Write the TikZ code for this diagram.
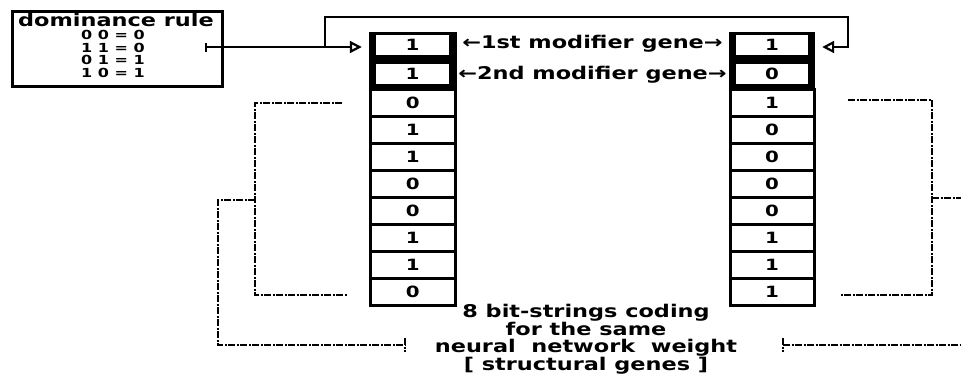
\documentclass[tikz,border=0pt]{standalone}
\usepackage{fontspec}
\setmainfont{DejaVu Sans}[FakeStretch=1.28]
\usetikzlibrary{arrows.meta}
\tikzset{
  cell/.style={draw, line width=3pt, minimum width=84.5pt, minimum height=27pt,
    inner sep=0pt, font=\bfseries\fontsize{15.5}{15.5}\selectfont},
  modblock/.style={fill=black, minimum width=88pt, minimum height=59pt, inner sep=0pt},
  modcell/.style={fill=white, minimum width=73pt, minimum height=20pt, inner sep=0pt,
    font=\bfseries\fontsize{15.5}{15.5}\selectfont},
  label/.style={font=\bfseries\fontsize{17.5}{16.6}\selectfont, align=center, inner sep=0pt},
  wire/.style={line width=2.2pt},
  tip/.style={-{Triangle[open,length=12pt,width=12pt]}},
  bracket/.style={line width=1.3pt, dash pattern=on 7pt off 1.5pt on 2pt off 1.5pt}
}
\begin{document}
\begin{tikzpicture}[x=1pt,y=-1pt]
\useasboundingbox (0,0) rectangle (961,376);
% dominance rule
\node[draw, line width=3pt, minimum width=210pt, minimum height=75pt] (rule) at (117,48.5) {};
\node[label] (ruletitle) at (116,20) {dominance rule};
\node[font=\bfseries\fontsize{12.5}{12.7}\selectfont, align=center, inner sep=0pt] (ruletab) at (113,54)
  {0 0 = 0\\1 1 = 0\\0 1 = 1\\1 0 = 1};
% left string
\node[modblock] (lmod) at (413,61.5) {};
\node[modcell] (lm1) at (412.5,45) {1};
\node[modcell, minimum height=19.5pt] (lm2) at (412.5,73.75) {1};
\foreach \v [count=\i] in {0,1,1,0,0,1,1,0}
  \node[cell] (l\i) at (412.75,{102.5+27*(\i-1)}) {\v};
% right string
\node[modblock, minimum width=86pt] (rmod) at (772,61.5) {};
\node[modcell, minimum width=72pt] (rm1) at (772,45) {1};
\node[modcell, minimum width=72pt, minimum height=19.5pt] (rm2) at (772,73.75) {0};
\foreach \v [count=\i] in {1,0,0,0,0,1,1,1}
  \node[cell, minimum width=84pt] (r\i) at (772,{102.5+27*(\i-1)}) {\v};
% modifier labels
\node[label] (mod1) at (592.5,44) {←1st modifier gene→};
\node[label] (mod2) at (592.5,75) {←2nd modifier gene→};
% rule wires
\coordinate (ruleout) at (205,47);
\coordinate (split) at (325,47);
\coordinate (ltip) at ([xshift=-7pt]lmod.west |- ruleout);
\coordinate (rtip) at ([xshift=7pt]rmod.east |- ruleout);
\draw[wire, {Bar[width=9pt]}-{Triangle[open,length=12pt,width=12pt]}] (ruleout) -- (ltip);
\draw[wire, tip] (split) |- (848,17) |- (rtip);
% structural genes
\draw[bracket] (342,103) -- (255,103) -- (255,295) -- (347,295);
\draw[bracket] (255,200) -- (218,200) -- (218,345) -- (405,345);
\draw[bracket] (405,338) -- (405,352);
\draw[bracket] (848,100) -- (932,100) -- (932,295) -- (841,295);
\draw[bracket] (932,198) -- (975,198);
\draw[bracket] (783,345) -- (975,345);
\draw[bracket] (783,338) -- (783,352);
\node[label] (caption) at (586,339)
  {8 bit-strings coding\\for the same\\neural~~network~~weight\\{[} structural genes ]};
\end{tikzpicture}
\end{document}
